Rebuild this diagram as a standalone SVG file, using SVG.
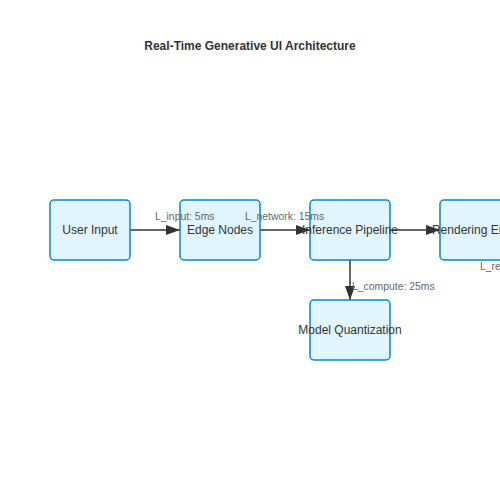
<svg xmlns="http://www.w3.org/2000/svg" width="500" height="500" viewBox="0 0 500 500">
<defs>
<style>
.node rect{fill:#e1f5fe;stroke:#0288d1;stroke-width:1.5}
.node text{font-family:"Liberation Sans",Arial,sans-serif;font-size:12px;fill:#333;text-anchor:middle}
.edge{stroke:#333;stroke-width:1.5;fill:none}
.lbl{font-family:"Liberation Sans",Arial,sans-serif;font-size:10.4px;fill:#666}
.title{font-family:"Liberation Sans",Arial,sans-serif;font-size:12px;font-weight:bold;fill:#333;text-anchor:middle}
</style>
<marker id="arr" viewBox="0 0 14 10" refX="14" refY="5" markerWidth="14" markerHeight="10" markerUnits="userSpaceOnUse" orient="auto">
<path d="M0,0 L14,5 L0,10 z" fill="#333"/>
</marker>
</defs>
<rect width="500" height="500" fill="#fff"/>
<text class="title" x="250" y="50">Real-Time Generative UI Architecture</text>
<g id="connectors">
<line class="edge" x1="130" y1="230" x2="180" y2="230" marker-end="url(#arr)"/>
<line class="edge" x1="260" y1="230" x2="310" y2="230" marker-end="url(#arr)"/>
<line class="edge" x1="390" y1="230" x2="440" y2="230" marker-end="url(#arr)"/>
<line class="edge" x1="350" y1="260" x2="350" y2="300" marker-end="url(#arr)"/>
</g>
<g id="node-user-input" class="node"><rect x="50" y="200" width="80" height="60" rx="4"/><text x="90" y="234">User Input</text></g>
<g id="node-edge-nodes" class="node"><rect x="180" y="200" width="80" height="60" rx="4"/><text x="220" y="234">Edge Nodes</text></g>
<g id="node-inference" class="node"><rect x="310" y="200" width="80" height="60" rx="4"/><text x="350" y="234">Inference Pipeline</text></g>
<g id="node-rendering" class="node"><rect x="440" y="200" width="80" height="60" rx="4"/><text x="480" y="234">Rendering Engine</text></g>
<g id="node-quant" class="node"><rect x="310" y="300" width="80" height="60" rx="4"/><text x="350" y="334">Model Quantization</text></g>
<g id="labels">
<text class="lbl" x="155" y="219.5">L_input: 5ms</text>
<text class="lbl" x="245" y="219.5">L_network: 15ms</text>
<text class="lbl" x="352" y="289.5">L_compute: 25ms</text>
<text class="lbl" x="480" y="270">L_render: 10ms</text>
</g>
</svg>
